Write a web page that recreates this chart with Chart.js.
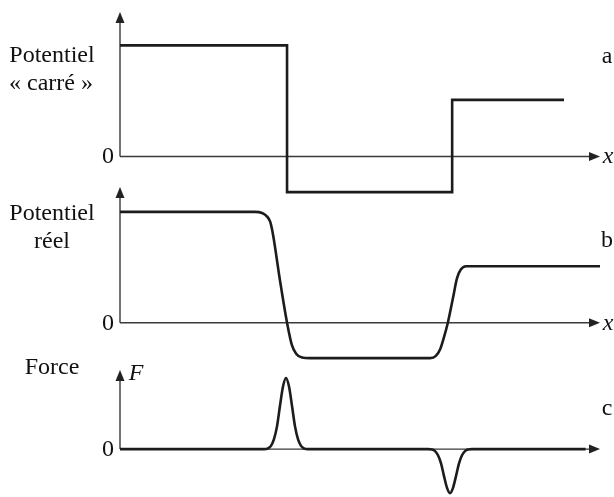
<!DOCTYPE html>
<html>
<head>
<meta charset="utf-8">
<script src="https://cdn.jsdelivr.net/npm/chart.js@4.4.0/dist/chart.umd.min.js"></script>
<style>
  html, body { margin: 0; padding: 0; background: #fff; overflow: hidden; }
  body { width: 614px; height: 497px; position: relative; }
  .panel { position: absolute; left: 0; width: 614px; }
</style>
</head>
<body>

<div class="panel" style="top:6px;height:201px"><canvas id="chartA"></canvas></div>
<div class="panel" style="top:181px;height:192px"><canvas id="chartB"></canvas></div>
<div class="panel" style="top:350px;height:146px"><canvas id="chartC"></canvas></div>

<script>
// a : potentiel "carré" (marches)
const carreX = [0, 3.48, 3.48, 6.92, 6.92, 9.25];
const carreY = [1, 1, -0.32, -0.32, 0.51, 0.51];

// b : potentiel réel (marches adoucies)
const reelX = [0, 1.67, 2.81, 2.96, 3.06, 3.13, 3.19, 3.33, 3.48, 3.58, 3.67, 3.79, 3.96,
               6.46, 6.58, 6.67, 6.75, 6.83, 6.94, 7.02, 7.10, 7.21, 7.40, 10];
const reelY = [1, 1, 1, 0.99, 0.96, 0.91, 0.79, 0.39, 0, -0.2, -0.28, -0.315, -0.32,
               -0.32, -0.30, -0.24, -0.13, 0, 0.23, 0.40, 0.48, 0.51, 0.51, 0.51];

// c : force F
const forceX = [0, 3.0, 3.083, 3.146, 3.208, 3.271, 3.333, 3.396, 3.458, 3.521, 3.583, 3.646, 3.708, 3.771, 3.833, 3.917,
                6.417, 6.5, 6.563, 6.625, 6.688, 6.75, 6.813, 6.875, 6.938, 7.0, 7.063, 7.125, 7.188, 7.25, 7.333, 9.7];
const forceY = [0, 0, 0.01, 0.045, 0.14, 0.32, 0.61, 0.88, 1.0, 0.88, 0.61, 0.32, 0.14, 0.045, 0.01, 0,
                0, -0.006, -0.028, -0.087, -0.2, -0.38, -0.545, -0.62, -0.545, -0.38, -0.2, -0.087, -0.028, -0.006, 0, 0];

// textes de chaque panneau : [texte, x, y (dans la page), italique]
const labelsA = [['Potentiel', 52, 56, false], ['« carré »', 51, 84, false], ['0', 108, 157, false],
                 ['a', 607, 57, false], ['x', 608, 157, true]];
const labelsB = [['Potentiel', 52, 214, false], ['réel', 52, 242, false], ['0', 108, 324, false],
                 ['b', 607, 241, false], ['x', 608, 324, true]];
const labelsC = [['Force', 52, 368, false], ['F', 136, 374, true], ['0', 108, 450, false],
                 ['c', 607, 409, false]];

const toPoints = (xs, ys) => xs.map((x, i) => ({ x: x, y: ys[i] }));

// axes avec flèches (sous la courbe) et textes
const axisArrows = {
  id: 'axisArrows',
  beforeDatasetsDraw(chart) {
    const { ctx, chartArea, scales } = chart;
    const x0 = scales.x.getPixelForValue(0);
    const y0 = scales.y.getPixelForValue(0);
    const xEnd = chartArea.right;
    const yTop = chartArea.top;
    ctx.save();
    ctx.strokeStyle = '#3a3a3a';
    ctx.fillStyle = '#222';
    ctx.lineWidth = 1.4;
    ctx.beginPath();
    ctx.moveTo(x0, y0); ctx.lineTo(xEnd - 8, y0);
    ctx.moveTo(x0, y0); ctx.lineTo(x0, yTop + 8);
    ctx.stroke();
    ctx.beginPath();
    ctx.moveTo(xEnd, y0); ctx.lineTo(xEnd - 11, y0 - 4.5); ctx.lineTo(xEnd - 11, y0 + 4.5);
    ctx.closePath(); ctx.fill();
    ctx.beginPath();
    ctx.moveTo(x0, yTop); ctx.lineTo(x0 - 4.5, yTop + 11); ctx.lineTo(x0 + 4.5, yTop + 11);
    ctx.closePath(); ctx.fill();
    ctx.restore();
  },
  afterDraw(chart, args, opts) {
    const ctx = chart.ctx;
    const top = chart.canvas.parentNode.offsetTop;
    ctx.save();
    ctx.fillStyle = '#111';
    ctx.textAlign = 'center';
    ctx.textBaseline = 'middle';
    (opts.labels || []).forEach(([t, x, y, it]) => {
      ctx.font = (it ? 'italic ' : '') + "24px 'Liberation Serif', 'Times New Roman', serif";
      ctx.fillText(t, x, y - top);
    });
    ctx.restore();
  }
};

function makePanel(id, xs, ys, yMin, yMax, smooth, padTop, padBottom, labels) {
  new Chart(document.getElementById(id), {
    type: 'line',
    data: {
      datasets: [{
        data: toPoints(xs, ys),
        borderColor: '#1c1c1c',
        borderWidth: 2.6,
        pointRadius: 0,
        fill: false,
        clip: false,
        tension: 0,
        cubicInterpolationMode: smooth ? 'monotone' : 'default'
      }]
    },
    options: {
      responsive: true,
      maintainAspectRatio: false,
      animation: false,
      events: [],
      layout: { padding: { left: 120, right: 14, top: padTop, bottom: padBottom } },
      plugins: { legend: { display: false }, tooltip: { enabled: false }, axisArrows: { labels: labels } },
      scales: {
        x: { type: 'linear', min: 0, max: 10, display: false },
        y: { type: 'linear', min: yMin, max: yMax, display: false }
      }
    },
    plugins: [axisArrows]
  });
}

makePanel('chartA', carreX, carreY, -0.4, 1.3, false, 6, 6, labelsA);
makePanel('chartB', reelX, reelY, -0.4, 1.225, true, 6, 6, labelsB);
makePanel('chartC', forceX, forceY, -0.66, 1.113, true, 20, 0, labelsC);
</script>
</body>
</html>
